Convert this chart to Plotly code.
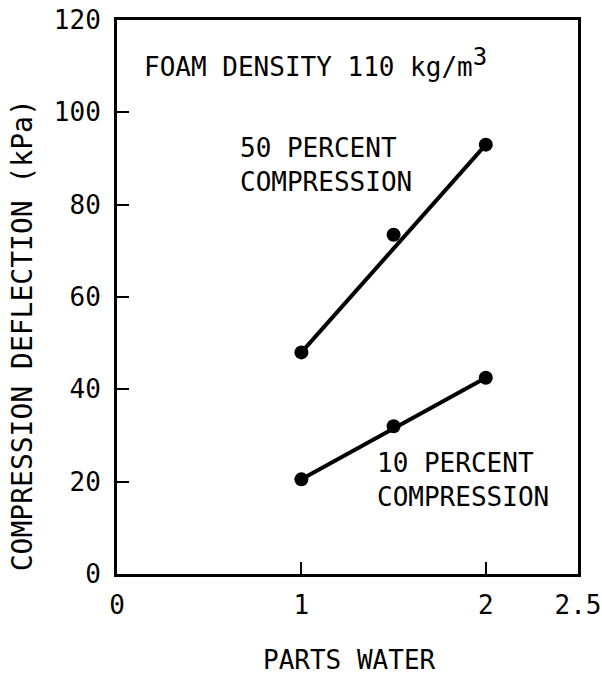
import plotly.graph_objects as go

# Compression deflection of foam vs. parts water
parts_water = [1.0, 1.5, 2.0]
deflection_50 = [48.0, 73.5, 93.0]   # 50 percent compression, kPa
deflection_10 = [20.5, 32.0, 42.5]   # 10 percent compression, kPa

x_ticks = [0, 1, 2, 2.5]
x_tick_text = ["0", "1", "2", "2.5"]
y_ticks = [0, 20, 40, 60, 80, 100, 120]

FONT = "DejaVu Sans Mono"
INK = "black"

fig = go.Figure()

for series in (deflection_50, deflection_10):
    # straight line drawn between first and last measurement
    fig.add_trace(go.Scatter(
        x=[parts_water[0], parts_water[-1]],
        y=[series[0], series[-1]],
        mode="lines",
        line=dict(color=INK, width=4),
        hoverinfo="skip",
        showlegend=False,
    ))
    fig.add_trace(go.Scatter(
        x=parts_water,
        y=series,
        mode="markers",
        marker=dict(color=INK, size=14),
        showlegend=False,
    ))

axis_common = dict(
    showgrid=False,
    zeroline=False,
    showline=True,
    linecolor=INK,
    linewidth=3,
    mirror=True,
    ticks="inside",
    ticklen=12,
    tickwidth=2,
    tickcolor=INK,
    automargin=False,
    tickfont=dict(family=FONT, size=26, color=INK),
)

fig.update_xaxes(range=[0, 2.5], tickvals=x_ticks, ticktext=x_tick_text,
                 ticklabelstandoff=6, **axis_common)
fig.update_yaxes(range=[0, 120], tickvals=y_ticks,
                 ticklabelstandoff=8, **axis_common)

text_font = dict(family=FONT, size=26, color=INK)

fig.add_annotation(
    x=0.136, y=110.7, xref="x", yref="y",
    text="FOAM DENSITY 110 kg/m<sup><span style='font-size:24px'>3</span></sup>",
    showarrow=False, xanchor="left", yanchor="middle", font=text_font,
)
fig.add_annotation(
    x=0.656, y=88.6, xref="x", yref="y",
    text="50 PERCENT<br>COMPRESSION", align="left",
    showarrow=False, xanchor="left", yanchor="middle", font=text_font,
)
fig.add_annotation(
    x=1.40, y=20.4, xref="x", yref="y",
    text="10 PERCENT<br>COMPRESSION", align="left",
    showarrow=False, xanchor="left", yanchor="middle", font=text_font,
)

# axis titles
fig.add_annotation(
    x=0.505, y=-0.155, xref="paper", yref="paper",
    text="PARTS WATER",
    showarrow=False, xanchor="center", yanchor="middle", font=text_font,
)
fig.add_annotation(
    x=-0.206, y=0.431, xref="paper", yref="paper",
    text="COMPRESSION DEFLECTION (kPa)", textangle=-90,
    showarrow=False, xanchor="center", yanchor="middle",
    font=dict(family=FONT, size=28, color=INK),
)

fig.update_layout(
    width=602,
    height=677,
    margin=dict(l=117, r=24, t=20, b=103),
    paper_bgcolor="white",
    plot_bgcolor="white",
    showlegend=False,
)

fig.write_html("out.html")
